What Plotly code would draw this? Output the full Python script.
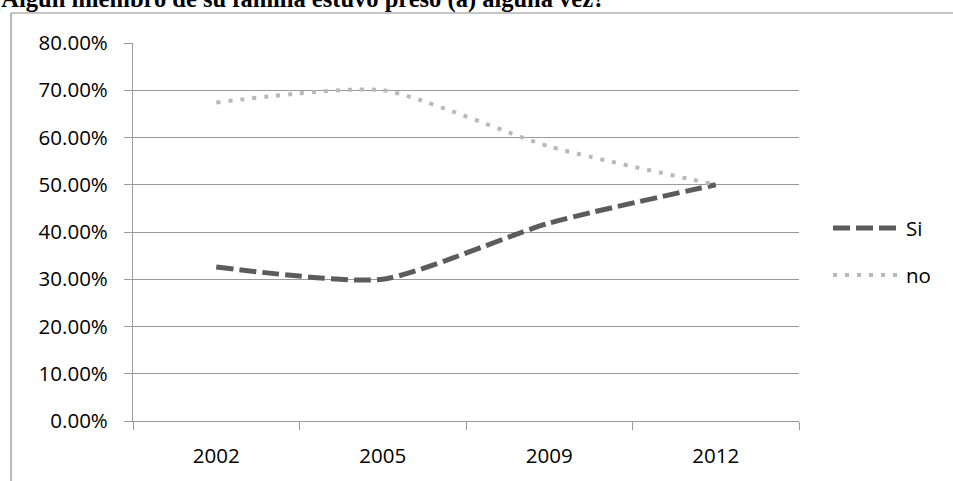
import plotly.graph_objects as go

# Survey years and share of answers
years = ["2002", "2005", "2009", "2012"]
si_values = [0.326, 0.300, 0.419, 0.500]
no_values = [0.674, 0.700, 0.581, 0.500]
series_names = ["Si", "no"]

title_text = "¿Algún miembro de su familia estuvo preso (a) alguna vez?"

W, H = 953, 481
L, R, T, B = 133, 154, 43, 60
plot_w = W - L - R
plot_h = H - T - B


def px_x(x):
    return (x - L) / plot_w


def px_y(y):
    return (H - B - y) / plot_h


SI_COLOR = "#5c5c5c"
NO_COLOR = "#b9b9b9"
SI_DASH = "17px,6px"
NO_DASH = "4px,8px"
FONT = "Open Sans"
FSIZE = 20.5
GRID = "#9a9a9a"

fig = go.Figure()
fig.add_trace(go.Scatter(
    x=years, y=si_values, name=series_names[0], mode="lines",
    line=dict(color=SI_COLOR, width=5, dash=SI_DASH, shape="spline", smoothing=0.6),
    showlegend=False,
))
fig.add_trace(go.Scatter(
    x=years, y=no_values, name=series_names[1], mode="lines",
    line=dict(color=NO_COLOR, width=4, dash=NO_DASH, shape="spline", smoothing=0.6),
    showlegend=False,
))

frame = dict(color="#8c8c8c", width=1.2)
shapes = [
    # chart frame: left and top edges (the rest runs past the page)
    dict(type="line", xref="paper", yref="paper",
         x0=px_x(11), x1=px_x(11), y0=px_y(H + 5), y1=px_y(13), line=frame),
    dict(type="line", xref="paper", yref="paper",
         x0=px_x(11), x1=px_x(W + 5), y0=px_y(13), y1=px_y(13), line=frame),
    # legend keys
    dict(type="line", xref="paper", yref="paper",
         x0=px_x(833), x1=px_x(898), y0=px_y(228), y1=px_y(228),
         line=dict(color=SI_COLOR, width=5, dash=SI_DASH)),
    dict(type="line", xref="paper", yref="paper",
         x0=px_x(833), x1=px_x(898), y0=px_y(275), y1=px_y(275),
         line=dict(color=NO_COLOR, width=4, dash=NO_DASH)),
]

annotations = [
    dict(text=series_names[0], xref="paper", yref="paper", x=px_x(904), y=px_y(228),
         xanchor="left", yanchor="middle", showarrow=False,
         font=dict(family=FONT, size=FSIZE, color="#000")),
    dict(text=series_names[1], xref="paper", yref="paper", x=px_x(904), y=px_y(275),
         xanchor="left", yanchor="middle", showarrow=False,
         font=dict(family=FONT, size=FSIZE, color="#000")),
    dict(text="<b>" + title_text + "</b>", xref="paper", yref="paper",
         x=px_x(-13), y=px_y(-1), xanchor="left", yanchor="middle", showarrow=False,
         font=dict(family="Liberation Serif", size=24.5, color="#000")),
]

fig.update_layout(
    width=W, height=H,
    margin=dict(l=L, r=R, t=T, b=B, pad=0),
    paper_bgcolor="white", plot_bgcolor="white",
    shapes=shapes, annotations=annotations,
    showlegend=False,
    font=dict(family=FONT, size=FSIZE, color="#000"),
    xaxis=dict(
        type="category", range=[-0.5, 3.5], showgrid=False,
        showline=True, linecolor=GRID, linewidth=1.2,
        ticks="outside", tickson="boundaries", ticklen=8, tickcolor=GRID,
        tickwidth=1.2, ticklabelstandoff=16,
        tickfont=dict(family=FONT, size=FSIZE, color="#000"),
        zeroline=False, fixedrange=True,
    ),
    yaxis=dict(
        range=[0, 0.8], tickvals=[i / 10 for i in range(9)], tickformat=".2%",
        showgrid=True, gridcolor=GRID, gridwidth=1.2,
        showline=True, linecolor=GRID, linewidth=1.2,
        ticks="outside", ticklen=8, tickcolor=GRID, tickwidth=1.2,
        ticklabelstandoff=12,
        tickfont=dict(family=FONT, size=FSIZE, color="#000"),
        zeroline=False, fixedrange=True,
    ),
)

fig.write_html("out.html")
